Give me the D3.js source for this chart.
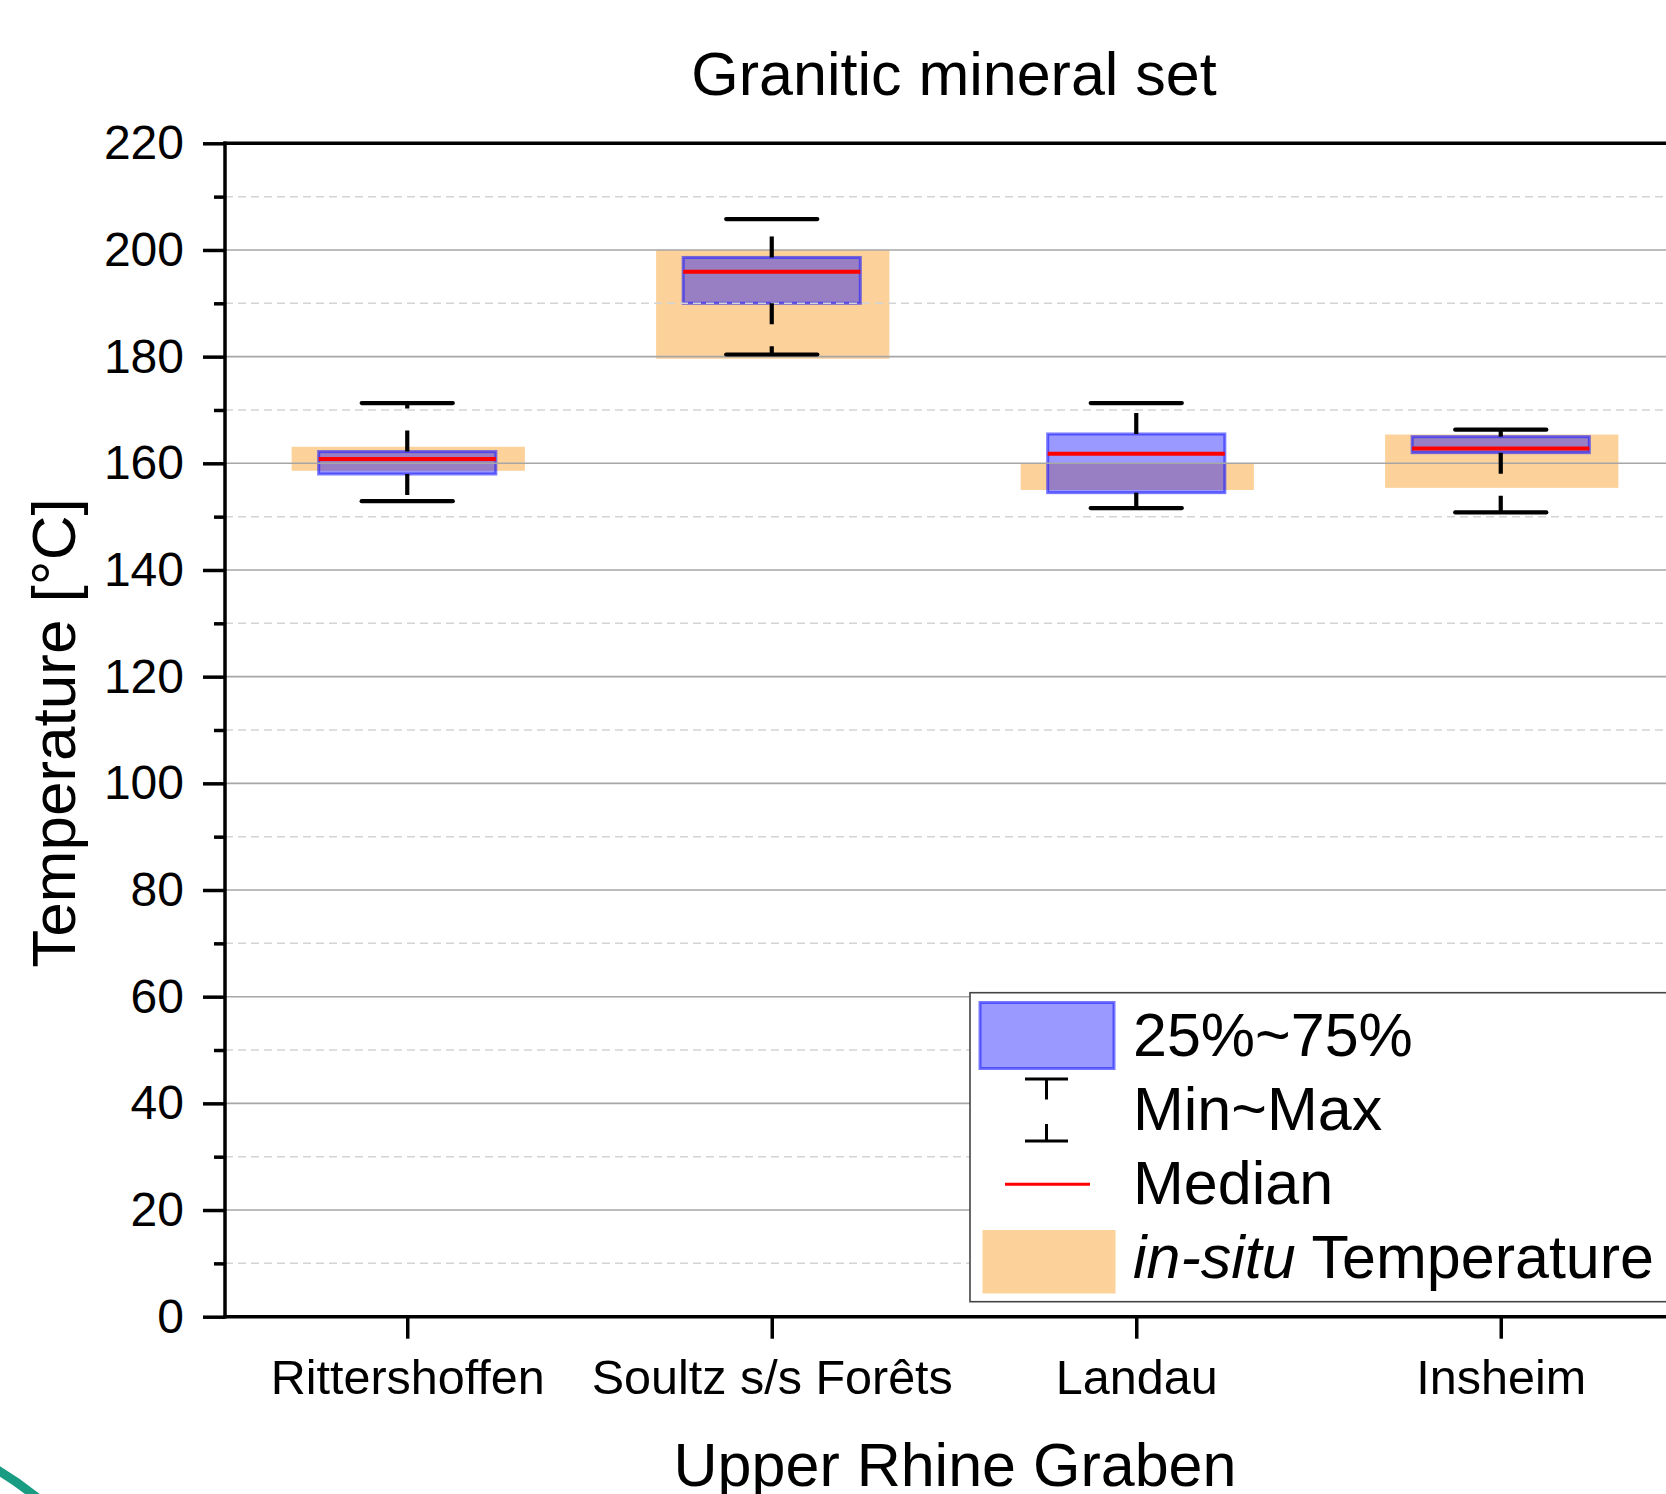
<!DOCTYPE html>
<html>
<head>
<meta charset="utf-8">
<script src="https://cdn.jsdelivr.net/npm/d3@7"></script>
<style>
  html, body { margin: 0; padding: 0; background: #ffffff; }
  svg { display: block; font-family: "Liberation Sans", Arial, sans-serif; }
</style>
</head>
<body>
<svg id="chart" width="1666" height="1494"></svg>
<script>
// Geothermal sites of the Upper Rhine Graben
const sites = ["Rittershoffen", "Soultz s/s Forêts", "Landau", "Insheim"];

// Estimated temperatures (°C) from the granitic mineral set
const minValues    = [152.9, 180.4, 151.6, 150.8];
const q1Values     = [158.0, 190.0, 154.5, 162.0];
const medianValues = [160.8, 195.9, 161.8, 162.8];
const q3Values     = [162.2, 198.6, 165.5, 165.0];
const maxValues    = [171.3, 205.8, 171.3, 166.3];

// Measured in-situ temperature ranges (°C)
const insituLow  = [158.6, 179.6, 155.0, 155.4];
const insituHigh = [163.1, 200.0, 160.0, 165.4];

const yMajorTicks = [0, 20, 40, 60, 80, 100, 120, 140, 160, 180, 200, 220];
const yMinorTicks = [10, 30, 50, 70, 90, 110, 130, 150, 170, 190, 210];

(function () {
const svg = d3.select("#chart");

const plotLeft = 225, plotTop = 143.3, plotBottom = 1316.7, plotRight = 1683;

const x = d3.scaleLinear().domain([0.5, 4.5]).range([plotLeft, plotRight]);
const y = d3.scaleLinear().domain([0, 220]).range([plotBottom, plotTop]);
const unit = x(1) - x(0);

const blueFill = "rgba(0,0,255,0.4)";
const blueStroke = "rgba(30,30,255,0.6)";
const orange = "#fdd29a";

// decorative corner arc
svg.append("path")
  .attr("d", "M -6 1468 Q 18 1482 40 1500")
  .attr("fill", "none")
  .attr("stroke", "#1a9c82")
  .attr("stroke-width", 9);

const data = sites.map((s, i) => ({
  site: s, pos: i + 1,
  min: minValues[i], q1: q1Values[i], med: medianValues[i], q3: q3Values[i], max: maxValues[i],
  lo: insituLow[i], hi: insituHigh[i]
}));

// in-situ temperature bands
const insituW = 0.64 * unit;
svg.append("g").selectAll("rect").data(data).join("rect")
  .attr("x", d => x(d.pos) - insituW / 2 + 1)
  .attr("width", insituW)
  .attr("y", d => y(d.hi))
  .attr("height", d => y(d.lo) - y(d.hi))
  .attr("fill", orange);

// interquartile boxes
const boxW = 0.486 * unit;
svg.append("g").selectAll("rect").data(data).join("rect")
  .attr("x", d => x(d.pos) - boxW / 2)
  .attr("width", boxW)
  .attr("y", d => y(d.q3))
  .attr("height", d => y(d.q1) - y(d.q3))
  .attr("fill", blueFill)
  .attr("stroke", blueStroke)
  .attr("stroke-width", 3);

// grid lines
const grid = svg.append("g");
grid.selectAll("line.minor").data(yMinorTicks).join("line")
  .attr("class", "minor")
  .attr("x1", plotLeft).attr("x2", 1666)
  .attr("y1", d => y(d)).attr("y2", d => y(d))
  .attr("stroke", "#d4d4d4").attr("stroke-width", 1.5)
  .attr("stroke-dasharray", "8,5");
grid.selectAll("line.major").data(yMajorTicks.filter(v => v > 0 && v < 220)).join("line")
  .attr("class", "major")
  .attr("x1", plotLeft).attr("x2", 1666)
  .attr("y1", d => y(d)).attr("y2", d => y(d))
  .attr("stroke", "#a6a6a6").attr("stroke-width", 1.6);

// whiskers (dashed stems from box edge to min / max caps)
const capW = 0.25 * unit;
const wg = svg.append("g").attr("stroke", "#000").attr("stroke-width", 4.2);
wg.selectAll("line.up").data(data).join("line")
  .attr("class", "up")
  .attr("x1", d => x(d.pos)).attr("x2", d => x(d.pos))
  .attr("y1", d => y(d.q3)).attr("y2", d => y(d.max))
  .attr("stroke-dasharray", "21,22");
wg.selectAll("line.down").data(data).join("line")
  .attr("class", "down")
  .attr("x1", d => x(d.pos)).attr("x2", d => x(d.pos))
  .attr("y1", d => y(d.q1)).attr("y2", d => y(d.min))
  .attr("stroke-dasharray", "21,22");
wg.selectAll("line.capmax").data(data).join("line")
  .attr("class", "capmax")
  .attr("x1", d => x(d.pos) - capW / 2).attr("x2", d => x(d.pos) + capW / 2)
  .attr("y1", d => y(d.max)).attr("y2", d => y(d.max))
  .attr("stroke-linecap", "round");
wg.selectAll("line.capmin").data(data).join("line")
  .attr("class", "capmin")
  .attr("x1", d => x(d.pos) - capW / 2).attr("x2", d => x(d.pos) + capW / 2)
  .attr("y1", d => y(d.min)).attr("y2", d => y(d.min))
  .attr("stroke-linecap", "round");

// medians
svg.append("g").selectAll("line").data(data).join("line")
  .attr("x1", d => x(d.pos) - boxW / 2).attr("x2", d => x(d.pos) + boxW / 2)
  .attr("y1", d => y(d.med)).attr("y2", d => y(d.med))
  .attr("stroke", "#ff0000").attr("stroke-width", 4);

// axes
const yAxis = svg.append("g").attr("transform", `translate(${plotLeft},0)`)
  .call(d3.axisLeft(y).tickValues(yMajorTicks).tickSize(22).tickPadding(19).tickFormat(d3.format("d")));
yAxis.select(".domain").remove();
yAxis.selectAll(".tick line").attr("stroke-width", 3.5);
yAxis.selectAll(".tick text").attr("font-size", 48).attr("fill", "#000")
  .attr("font-family", "'Liberation Sans', Arial, sans-serif");

const yMinor = svg.append("g").attr("transform", `translate(${plotLeft},0)`)
  .call(d3.axisLeft(y).tickValues(yMinorTicks).tickSize(11).tickFormat(""));
yMinor.select(".domain").remove();
yMinor.selectAll(".tick line").attr("stroke-width", 3.5);

const xAxis = svg.append("g").attr("transform", `translate(0,${plotBottom})`)
  .call(d3.axisBottom(x).tickValues([1, 2, 3, 4]).tickSize(22).tickFormat(d => sites[d - 1]));
xAxis.select(".domain").remove();
xAxis.selectAll(".tick line").attr("stroke-width", 3.5);
xAxis.selectAll(".tick text").attr("font-size", 48.5).attr("fill", "#000")
  .attr("y", 77.3).attr("dy", 0)
  .attr("font-family", "'Liberation Sans', Arial, sans-serif");

// axis lines and top frame
const frame = svg.append("g").attr("stroke", "#000").attr("stroke-width", 3.5).attr("fill", "none");
frame.append("line").attr("x1", plotLeft).attr("x2", plotLeft).attr("y1", plotTop - 1.7).attr("y2", plotBottom + 1.7);
frame.append("line").attr("x1", plotLeft - 1.7).attr("x2", 1666).attr("y1", plotBottom).attr("y2", plotBottom);
frame.append("line").attr("x1", plotLeft - 1.7).attr("x2", 1666).attr("y1", plotTop).attr("y2", plotTop);

// titles
svg.append("text").attr("x", 954).attr("y", 95)
  .attr("text-anchor", "middle").attr("font-size", 61)
  .text("Granitic mineral set");
svg.append("text").attr("x", 955).attr("y", 1486)
  .attr("text-anchor", "middle").attr("font-size", 61)
  .text("Upper Rhine Graben");
svg.append("text")
  .attr("transform", "translate(75,733) rotate(-90)")
  .attr("text-anchor", "middle").attr("font-size", 62)
  .text("Temperature [°C]");

// legend
const lg = svg.append("g");
lg.append("rect").attr("x", 970).attr("y", 992.7).attr("width", 720).attr("height", 309)
  .attr("fill", "#fff").attr("stroke", "#444").attr("stroke-width", 1.6);
lg.append("rect").attr("x", 980).attr("y", 1002.5).attr("width", 134).attr("height", 66)
  .attr("fill", blueFill).attr("stroke", blueStroke).attr("stroke-width", 3);
const lgW = lg.append("g").attr("stroke", "#000").attr("stroke-width", 3);
lgW.append("line").attr("x1", 1025).attr("x2", 1068).attr("y1", 1079).attr("y2", 1079);
lgW.append("line").attr("x1", 1046.5).attr("x2", 1046.5).attr("y1", 1079).attr("y2", 1099.5);
lgW.append("line").attr("x1", 1046.5).attr("x2", 1046.5).attr("y1", 1124).attr("y2", 1141);
lgW.append("line").attr("x1", 1025).attr("x2", 1068).attr("y1", 1141).attr("y2", 1141);
lg.append("line").attr("x1", 1005).attr("x2", 1090).attr("y1", 1184.3).attr("y2", 1184.3)
  .attr("stroke", "#ff0000").attr("stroke-width", 3);
lg.append("rect").attr("x", 982.5).attr("y", 1230).attr("width", 133).attr("height", 63.5)
  .attr("fill", orange);

const lgText = [
  { t: "25%~75%", y: 1056 },
  { t: "Min~Max", y: 1130 },
  { t: "Median", y: 1204 }
];
lg.selectAll("text.item").data(lgText).join("text")
  .attr("class", "item")
  .attr("x", 1133).attr("y", d => d.y).attr("font-size", 61)
  .text(d => d.t);
const insituLabel = lg.append("text").attr("x", 1133).attr("y", 1277.7).attr("font-size", 61);
insituLabel.append("tspan").attr("font-style", "italic").text("in-situ");
insituLabel.append("tspan").text(" Temperature");
})();
</script>
</body>
</html>
